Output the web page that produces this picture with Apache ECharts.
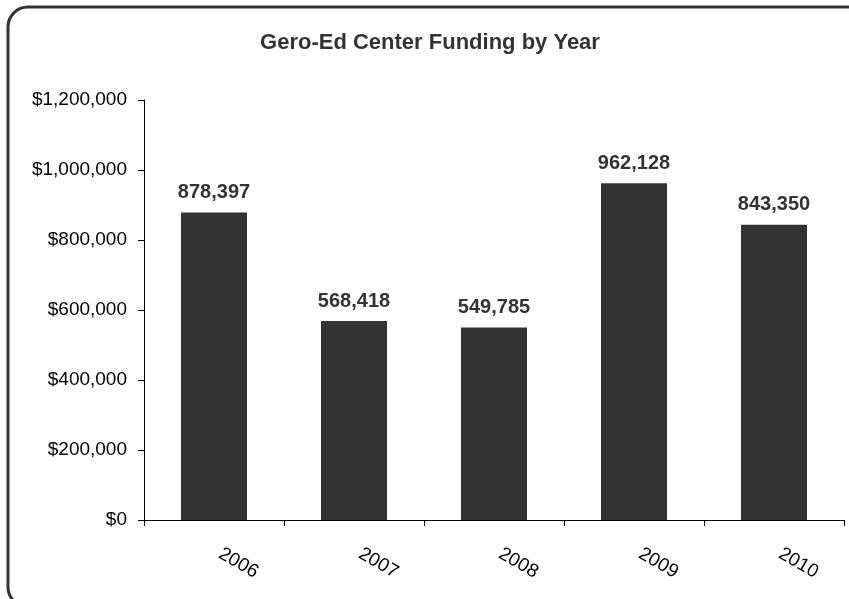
<!DOCTYPE html>
<html>
<head>
<meta charset="utf-8">
<script src="https://cdn.jsdelivr.net/npm/echarts@6/dist/echarts.min.js"></script>
<style>
  html, body { margin: 0; padding: 0; background: #fff; }
  #chart { width: 849px; height: 599px; }
</style>
</head>
<body>
<div id="chart"></div>
<script>
// 数据
var years = ['2006', '2007', '2008', '2009', '2010'];
var funding = [878397, 568418, 549785, 962128, 843350];

var myChart = echarts.init(document.getElementById('chart'));

function money(v) {
    return '$' + v.toLocaleString('en-US');
}

var option = {
    animation: false,
    backgroundColor: '#fff',
    textStyle: { fontFamily: 'Liberation Sans, Arial, sans-serif' },
    title: {
        text: 'Gero-Ed Center Funding by Year',
        left: 425,
        textAlign: 'center',
        top: 27,
        textStyle: { fontSize: 22, fontWeight: 'bold', color: '#333' }
    },
    // 外框
    graphic: [{
        type: 'rect',
        shape: { x: 8, y: 7, width: 870, height: 600, r: 20 },
        style: { fill: 'none', stroke: '#333', lineWidth: 3 },
        silent: true
    }],
    grid: {
        left: 144,
        right: 5,
        top: 100,
        bottom: 79
    },
    xAxis: {
        type: 'category',
        data: years,
        axisLine: { lineStyle: { color: '#000', width: 1 } },
        axisTick: { show: true, length: 6, lineStyle: { color: '#000' } },
        axisLabel: {
            rotate: -30,
            margin: 29,
            padding: [0, 0, 0, 7],
            fontSize: 19,
            color: '#000'
        }
    },
    yAxis: {
        type: 'value',
        min: 0,
        max: 1200000,
        interval: 200000,
        splitLine: { show: false },
        axisLine: { show: true, lineStyle: { color: '#000', width: 1 } },
        axisTick: { show: true, length: 6, lineStyle: { color: '#000' } },
        axisLabel: {
            fontSize: 19,
            color: '#000',
            margin: 17,
            formatter: money
        }
    },
    series: [{
        type: 'bar',
        data: funding,
        barWidth: 66,
        itemStyle: { color: '#333333' },
        label: {
            show: true,
            position: 'top',
            distance: 10,
            fontSize: 20,
            fontWeight: 'bold',
            color: '#333',
            formatter: function (p) { return p.value.toLocaleString('en-US'); }
        }
    }]
};

myChart.setOption(option);
</script>
</body>
</html>
